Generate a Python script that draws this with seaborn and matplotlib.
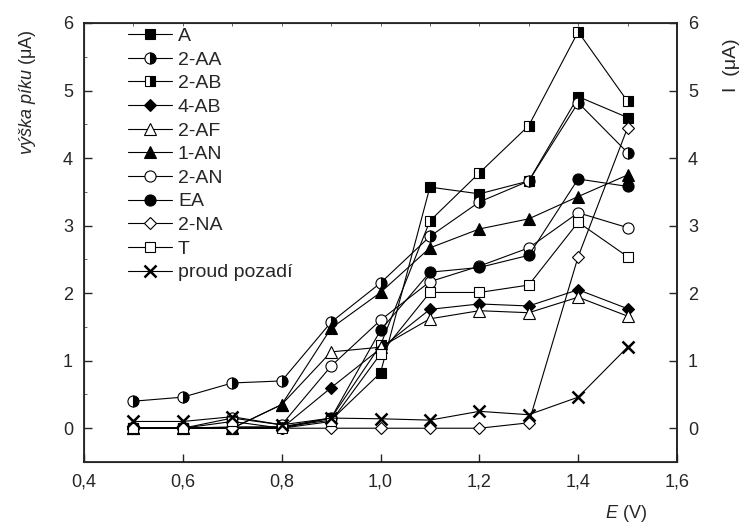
"""Peak height vs. potential, recreated with seaborn."""

import matplotlib

matplotlib.use("Agg")

import matplotlib.pyplot as plt
import seaborn as sns
from matplotlib.ticker import FuncFormatter, MultipleLocator

# data
E = [0.5, 0.6, 0.7, 0.8, 0.9, 1.0, 1.1, 1.2, 1.3, 1.4, 1.5]

names = ["A", "2-AA", "2-AB", "4-AB", "2-AF", "1-AN", "2-AN", "EA", "2-NA", "T", "proud pozadí"]

A = [0, 0, 0, 0.02, 0.12, 0.82, 3.57, 3.47, 3.66, 4.91, 4.60]
AA2 = [0.40, 0.46, 0.67, 0.70, 1.57, 2.15, 2.84, 3.35, 3.66, 4.82, 4.08]
AB2 = [0, 0, 0.02, 0.02, 0.15, 1.23, 3.07, 3.78, 4.48, 5.87, 4.84]
AB4 = [0, 0, 0, 0, 0.60, 1.18, 1.76, 1.84, 1.81, 2.05, 1.77]
AF2 = [0, 0, 0, 0.35, 1.13, 1.20, 1.62, 1.74, 1.71, 1.94, 1.66]
AN1 = [0, 0, 0, 0.35, 1.48, 2.01, 2.67, 2.95, 3.10, 3.43, 3.75]
AN2 = [0, 0, 0.15, 0.05, 0.92, 1.60, 2.17, 2.40, 2.67, 3.19, 2.97]
EA = [0, 0, 0, 0, 0.15, 1.45, 2.31, 2.38, 2.56, 3.69, 3.58]
NA2 = [0, 0, 0, 0, 0, 0, 0, 0, 0.08, 2.54, 4.45]
T = [0, 0, 0.10, 0, 0.10, 1.10, 2.01, 2.01, 2.12, 3.05, 2.54]
proud = [0.10, 0.10, 0.17, 0.05, 0.15, 0.14, 0.12, 0.25, 0.20, 0.46, 1.20]

series = [A, AA2, AB2, AB4, AF2, AN1, AN2, EA, NA2, T, proud]

# marker styles: (marker, size, face, fillstyle)
styles = [
    ("s", 7, "black", "full"),
    ("o", 8, "black", "right"),
    ("s", 7, "black", "right"),
    ("D", 6.5, "black", "full"),
    ("^", 8, "white", "full"),
    ("^", 8, "black", "full"),
    ("o", 8, "white", "full"),
    ("o", 8, "black", "full"),
    ("D", 6.5, "white", "full"),
    ("s", 7, "white", "full"),
    ("x", 8, "black", "full"),
]

sns.set_style("ticks")
plt.rcParams["font.family"] = ["Liberation Sans", "DejaVu Sans"]
plt.rcParams["font.size"] = 13
plt.rcParams["mathtext.fontset"] = "custom"
plt.rcParams["mathtext.it"] = "Liberation Sans:italic"
plt.rcParams["mathtext.rm"] = "Liberation Sans"

fig = plt.figure(figsize=(7.45, 5.32), dpi=100)
ax = fig.add_axes([0.1128, 0.1316, 0.7959, 0.8252])

for name, vals, (mk, ms, face, fill) in zip(names, series, styles):
    sns.lineplot(
        x=E,
        y=vals,
        ax=ax,
        color="black",
        linewidth=0.8,
        marker=mk,
        markersize=ms,
        markerfacecolor=face,
        markerfacecoloralt="white",
        fillstyle=fill,
        markeredgecolor="black",
        markeredgewidth=1.8 if mk == "x" else 0.8,
        errorbar=None,
        label=name,
    )

ax.set_xlim(0.4, 1.6)
ax.set_ylim(-0.5, 6)
ax.xaxis.set_major_locator(MultipleLocator(0.2))
ax.xaxis.set_minor_locator(MultipleLocator(0.1))
ax.xaxis.remove_overlapping_locs = False
ax.yaxis.set_major_locator(MultipleLocator(1))
ax.yaxis.set_minor_locator(MultipleLocator(0.5))
ax.xaxis.set_major_formatter(FuncFormatter(lambda v, p: f"{v:.1f}".replace(".", ",")))
ax.yaxis.set_major_formatter(FuncFormatter(lambda v, p: f"{v:.0f}"))

ax.tick_params(axis="x", which="major", direction="in", length=6, width=1, top=False, pad=8, labelsize=13)
ax.tick_params(axis="x", which="minor", direction="in", length=2, width=0.5, top=True, bottom=False)
ax.tick_params(axis="y", which="major", direction="in", length=6, width=1, pad=8, labelsize=13)
ax.tick_params(axis="y", which="minor", direction="in", length=2, width=0.5)
for side in ["left", "right", "top", "bottom"]:
    ax.spines[side].set_visible(True)
    ax.spines[side].set_linewidth(1.1)
    ax.spines[side].set_color("black")

# secondary axis on the right
ax2 = ax.twinx()
ax2.set_ylim(ax.get_ylim())
ax2.yaxis.set_major_locator(MultipleLocator(1))
ax2.yaxis.set_major_formatter(FuncFormatter(lambda v, p: f"{v:.0f}"))
ax2.tick_params(axis="y", direction="in", length=6, width=1, pad=8, labelsize=13)
ax2.spines["right"].set_linewidth(1.1)
ax2.set_ylabel("I  (μA)", fontsize=14)
ax2.yaxis.set_label_coords(1.078, 0.904)

ax.set_ylabel("$\\mathit{výška\\ píku}$ (μA)", fontsize=13)
ax.yaxis.set_label_coords(-0.077, 0.843)
ax.set_xlabel("$\\mathit{E}$ (V)", fontsize=13)
ax.xaxis.set_label_coords(0.914, -0.093)

ax.legend(
    loc="upper left",
    bbox_to_anchor=(0.074, 0.99),
    frameon=False,
    borderpad=0,
    borderaxespad=0,
    handlelength=2.27,
    handletextpad=0.3,
    labelspacing=0.31,
    fontsize=14,
)

fig.savefig("out.png", dpi=100)
plt.close(fig)
